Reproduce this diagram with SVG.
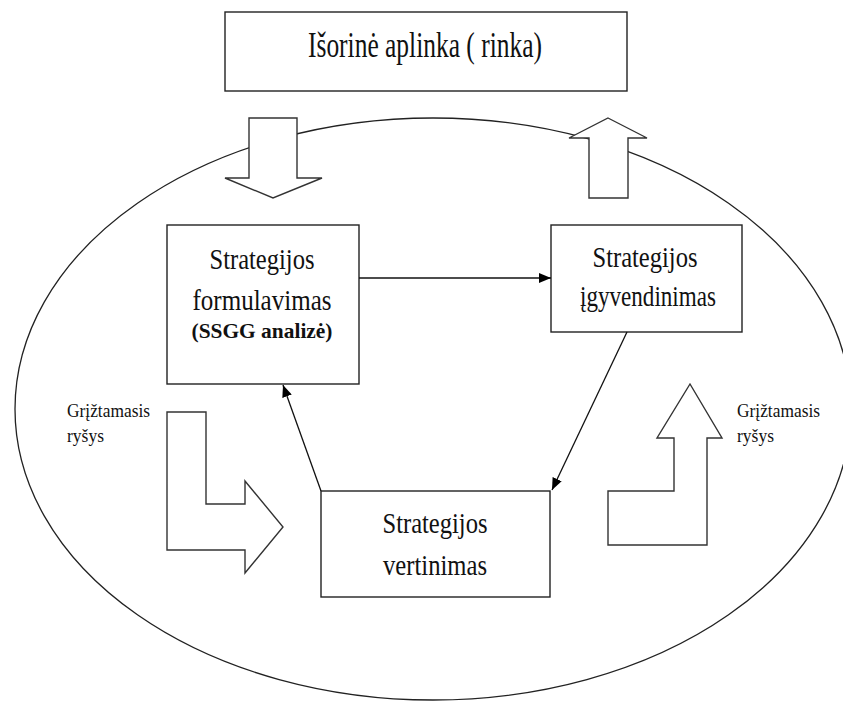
<svg xmlns="http://www.w3.org/2000/svg" width="843" height="702" viewBox="0 0 843 702">
<style>
.box{fill:#fff;stroke:#222;stroke-width:1.4}
.shape{fill:#fff;stroke:#333;stroke-width:1.4;stroke-linejoin:miter}
.ell{fill:none;stroke:#222;stroke-width:1.3}
.conn{fill:none;stroke:#111;stroke-width:1.3}
text{font-family:'Liberation Serif','Times New Roman','DejaVu Serif',serif;fill:#111}
.t{text-anchor:middle}
</style>
<defs>
<marker id="ah" viewBox="0 0 12 10" refX="12" refY="5" markerWidth="12" markerHeight="10" markerUnits="userSpaceOnUse" orient="auto">
<path d="M0,0 L12,5 L0,10 Z" fill="#000"/>
</marker>
</defs>
<rect width="843" height="702" fill="#fff"/>
<ellipse class="ell" cx="433" cy="409" rx="418" ry="291"/>
<g id="env">
<rect class="box" x="225" y="12" width="402" height="79"/>
<text class="t" x="425" y="57" font-size="36" textLength="234" lengthAdjust="spacingAndGlyphs">Išorinė aplinka ( rinka)</text>
</g>
<g id="arrow-in">
<polygon class="shape" points="249,118 297,118 297,178 322,178 273,198 225,178 249,178"/>
</g>
<g id="arrow-out">
<polygon class="shape" points="608,118 647,138 628,138 628,198 589,198 589,138 569,138"/>
</g>
<g id="formulation">
<rect class="box" x="167" y="225" width="192" height="159"/>
<text class="t" x="262" y="269" font-size="30" textLength="105" lengthAdjust="spacingAndGlyphs">Strategijos</text>
<text class="t" x="262" y="310" font-size="30" textLength="139" lengthAdjust="spacingAndGlyphs">formulavimas</text>
<text class="t" x="262" y="338" font-size="22" font-weight="bold" textLength="141" lengthAdjust="spacingAndGlyphs">(SSGG analizė)</text>
</g>
<g id="implementation">
<rect class="box" x="551" y="225" width="191" height="107"/>
<text class="t" x="645" y="267" font-size="30" textLength="105" lengthAdjust="spacingAndGlyphs">Strategijos</text>
<text class="t" x="648" y="306" font-size="30" textLength="136" lengthAdjust="spacingAndGlyphs">įgyvendinimas</text>
</g>
<g id="evaluation">
<rect class="box" x="321" y="491" width="229" height="106"/>
<text class="t" x="435" y="533" font-size="30" textLength="105" lengthAdjust="spacingAndGlyphs">Strategijos</text>
<text class="t" x="435" y="575" font-size="30" textLength="104" lengthAdjust="spacingAndGlyphs">vertinimas</text>
</g>
<g id="feedback-left">
<polygon class="shape" points="167,412 206,412 206,504 245,504 245,481 283,527 245,573 245,550 167,550"/>
<text x="67" y="417" font-size="19" textLength="83" lengthAdjust="spacingAndGlyphs">Grįžtamasis</text>
<text x="67" y="442" font-size="19" textLength="37" lengthAdjust="spacingAndGlyphs">ryšys</text>
</g>
<g id="feedback-right">
<polygon class="shape" points="690,384 722,438 707,438 707,545 608,545 608,491 674,491 674,438 657,438"/>
<text x="737" y="417" font-size="19" textLength="83" lengthAdjust="spacingAndGlyphs">Grįžtamasis</text>
<text x="737" y="442" font-size="19" textLength="37" lengthAdjust="spacingAndGlyphs">ryšys</text>
</g>
<g id="connectors">
<line class="conn" x1="359" y1="278" x2="551" y2="278" marker-end="url(#ah)"/>
<line class="conn" x1="627" y1="332" x2="552" y2="490" marker-end="url(#ah)"/>
<line class="conn" x1="321" y1="491" x2="283" y2="385" marker-end="url(#ah)"/>
</g>
</svg>
